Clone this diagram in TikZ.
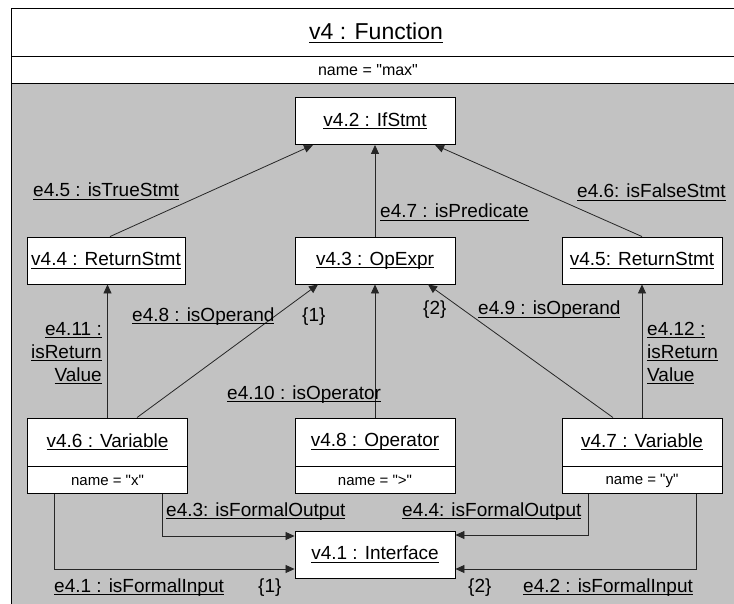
\documentclass[tikz,border=0pt]{standalone}
\usepackage{fontspec}
\setmainfont[Ligatures=TeXOff]{Liberation Sans}
\usetikzlibrary{arrows.meta}

% underline drawn just below the baseline, crossing descenders
\newlength\ulw
\newcommand\ulin[1]{\settowidth{\ulw}{#1}\rlap{\rule[-2.8pt]{\ulw}{0.9pt}}#1}

\begin{document}
\begin{tikzpicture}[x=1pt,y=-1pt,
  big/.style={font=\fontsize{19}{23}\selectfont},
  small/.style={font=\fontsize{15}{18}\selectfont},
  objbox/.style={big,draw=black,line width=0.9pt,fill=white,inner sep=0pt,
    minimum width=#1,minimum height=47pt},
  objbox/.default=160pt,
  attrbox/.style={small,draw=black,line width=0.9pt,fill=white,inner sep=0pt,
    minimum width=160pt,minimum height=27pt,anchor=north},
  conn/.style={draw=black!85,line width=0.8pt,-{Triangle[length=9pt,width=8pt]}},
  lbl/.style={big,inner sep=0pt,anchor=base west},
  lblr/.style={big,inner sep=0pt,anchor=base east},
]
\useasboundingbox (0,0) rectangle (734,604);

% frame of the enclosing object
\begin{scope}
  \clip (0,0) rectangle (734,604);
  \fill[white] (11,9) rectangle (760,84);
  \fill[black!24] (11,84) rectangle (760,640);
  \draw[line width=1pt] (760,9) -- (11,9) -- (11,640);
  \draw[line width=1pt] (11,57) -- (760,57);
  \draw[line width=1pt] (11,84) -- (760,84);
\end{scope}

\node[font=\fontsize{23}{27}\selectfont] (title) at (376,33) {\ulin{v4 : Function}};
\node[font=\fontsize{16}{19}\selectfont] (fname) at (368,70.5) {name = "max"};

% objects
\node[objbox] (v42) at (375,121) {\ulin{v4.2 : IfStmt}};
\node[objbox=158pt] (v44) at (106,260.5) {\ulin{v4.4 : ReturnStmt}};
\node[objbox] (v43) at (375,260.5) {\ulin{v4.3 : OpExpr}};
\node[objbox] (v45) at (642,260.5) {\ulin{v4.5: ReturnStmt}};

\node[objbox,minimum height=48pt] (v46) at (107.5,442) {\ulin{v4.6 : Variable}};
\node[attrbox] (v46a) at (v46.south) {name = "x"};
\node[objbox,minimum height=48pt] (v48) at (375,442) {\ulin{v4.8 : Operator}};
\node[attrbox] (v48a) at (v48.south) {name = ">"};
\node[objbox,minimum height=48pt] (v47) at (642,442) {\ulin{v4.7 : Variable}};
\node[attrbox] (v47a) at (v47.south) {name = "y"};

\node[objbox] (v41) at (375,554.5) {\ulin{v4.1 : Interface}};

% links
\draw[conn] ([xshift=4pt]v44.north) -- ([xshift=-62pt]v42.south);
\draw[conn] (v45.north) -- ([xshift=60pt]v42.south);
\draw[conn] (v43.north) -- (v42.south);

\draw[conn] (v46.north) -- (v46.north |- v44.south);
\draw[conn] ([xshift=29.5pt]v46.north) -- ([xshift=-57pt]v43.south);
\draw[conn] (v48.north) -- (v43.south);
\draw[conn] ([xshift=-29pt]v47.north) -- ([xshift=53pt]v43.south);
\draw[conn] (v47.north) -- (v45.south);

\draw[conn] ([xshift=54.5pt]v46a.south) |- ([yshift=18.5pt]v41.west);
\draw[conn] ([xshift=-53.5pt]v46a.south) |- ([yshift=-14.5pt]v41.west);
\draw[conn] ([xshift=-54pt]v47a.south) |- ([yshift=19.5pt]v41.east);
\draw[conn] ([xshift=54pt]v47a.south) |- ([yshift=-14.5pt]v41.east);

% link labels
\node[lbl] (l45) at (33,197) {\ulin{e4.5 : isTrueStmt}};
\node[lbl] (l46) at (577,198) {\ulin{e4.6: isFalseStmt}};
\node[lbl] (l47) at (380,218) {\ulin{e4.7 : isPredicate}};

\node[lblr] (l411a) at (102,335) {\ulin{e4.11 :}};
\node[lblr] (l411b) at (102,358) {\ulin{isReturn}};
\node[lblr] (l411c) at (102,381) {\ulin{Value}};

\node[lbl] (l48) at (132,321) {\ulin{e4.8 : isOperand}};
\node[lbl] (r48) at (302,321) {\{1\}};
\node[lbl] (l410) at (227,399) {\ulin{e4.10 : isOperator}};
\node[lbl] (l49) at (478,315) {\ulin{e4.9 : isOperand}};
\node[lbl] (r49) at (423,315) {\{2\}};

\node[lbl] (l412a) at (647,335) {\ulin{e4.12 :}};
\node[lbl] (l412b) at (647,358) {\ulin{isReturn}};
\node[lbl] (l412c) at (647,381) {\ulin{Value}};

\node[lbl] (l43) at (166,516) {\ulin{e4.3: isFormalOutput}};
\node[lbl] (l41) at (54,592) {\ulin{e4.1 : isFormalInput}};
\node[lbl] (r41) at (258,592) {\{1\}};
\node[lbl] (l44) at (402,516) {\ulin{e4.4: isFormalOutput}};
\node[lbl] (l42) at (523,592) {\ulin{e4.2 : isFormalInput}};
\node[lbl] (r42) at (468,592) {\{2\}};
\end{tikzpicture}
\end{document}
